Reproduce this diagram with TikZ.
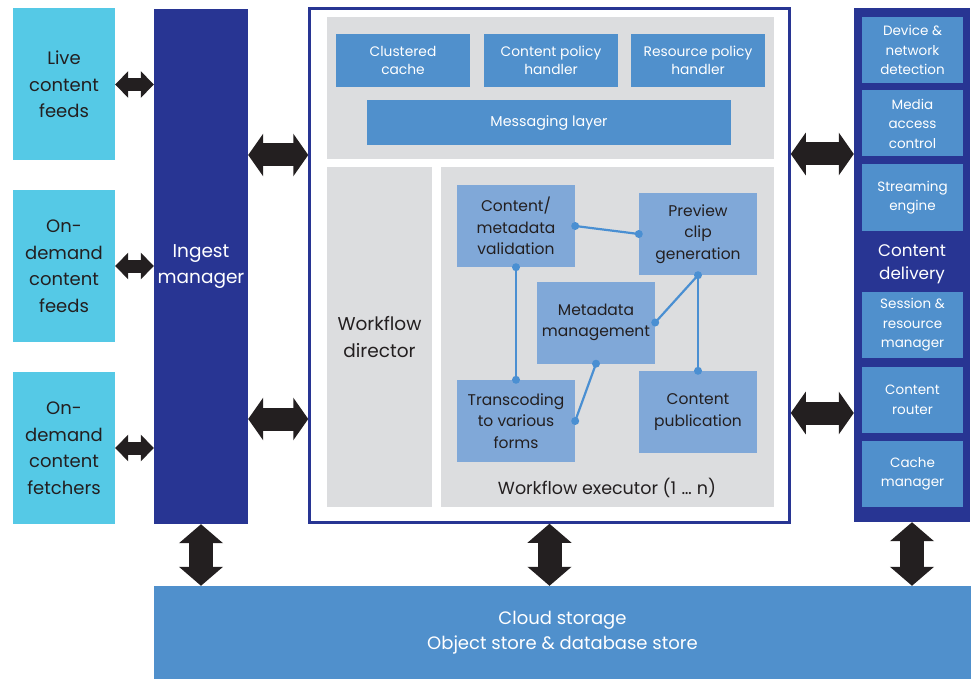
\documentclass[tikz,border=0pt]{standalone}
\usepackage{fontspec}
\setmainfont{Poppins}
\usetikzlibrary{arrows.meta}
\definecolor{cyanbox}{HTML}{55C9E6}
\definecolor{navy}{HTML}{283593}
\definecolor{midblue}{HTML}{5090CC}
\definecolor{lightblue}{HTML}{80A8D8}
\definecolor{panel}{HTML}{DCDDDF}
\definecolor{arrowc}{HTML}{231F20}
\definecolor{linkc}{HTML}{4A8FD2}
\definecolor{txt}{HTML}{231F20}
\tikzset{
  box/.style={rectangle, inner sep=0pt, align=center, draw=none},
  feed/.style={box, fill=cyanbox, text=txt, minimum width=102pt, minimum height=152pt, font=\fontsize{18}{26.5}\selectfont},
  topbox/.style={box, fill=midblue, text=white, minimum width=134pt, minimum height=53pt, font=\fontsize{13.8}{18.5}\selectfont},
  wfbox/.style={box, fill=lightblue, text=txt, minimum width=118pt, minimum height=82pt, font=\fontsize{15.5}{21.5}\selectfont},
  cdbox/.style={box, fill=midblue, text=white, minimum width=101pt, minimum height=66pt, font=\fontsize{13.5}{19.5}\selectfont},
  fatsmall/.style={draw=arrowc, line width=13pt, {Triangle[width=26pt,length=13pt]}-{Triangle[width=26pt,length=13pt]}},
  fatbig/.style={draw=arrowc, line width=23pt, {Triangle[width=42pt,length=15pt]}-{Triangle[width=42pt,length=15pt]}},
  fatvert/.style={draw=arrowc, line width=24pt, {Triangle[width=43pt,length=19pt]}-{Triangle[width=43pt,length=19pt]}},
  link/.style={draw=linkc, line width=2.2pt},
  dot/.style={fill=linkc},
}
\begin{document}
\begin{tikzpicture}[x=1pt,y=-1pt]
\useasboundingbox (0,0) rectangle (971,679);
% left feeds
\node[feed] (live) at (64,84.5) {Live\\content\\feeds};
\node[feed] (ondf) at (64,266) {On-\\demand\\content\\feeds};
\node[feed] (onfe) at (64,448) {On-\\demand\\content\\fetchers};
% ingest
\node[box, fill=navy, text=white, minimum width=94pt, minimum height=515pt, font=\fontsize{18.5}{26}\selectfont] (ingest) at (201,266.5) {Ingest\\manager};
% main frame
\node[box, draw=navy, line width=2.5pt, fill=white, minimum width=480pt, minimum height=514pt] (frame) at (549.5,265.5) {};
\node[box, fill=panel, minimum width=447pt, minimum height=142pt] (toppanel) at (550.5,88) {};
\node[topbox] (ccache) at (403,60.5) {Clustered\\cache};
\node[topbox] (cpol) at (551,60.5) {Content policy\\handler};
\node[topbox] (rpol) at (698,60.5) {Resource policy\\handler};
\node[topbox, minimum width=364pt, minimum height=45pt, font=\fontsize{14.3}{18}\selectfont] (msg) at (549,122.5) {Messaging layer};
\node[box, fill=panel, text=txt, minimum width=105pt, minimum height=340pt, font=\fontsize{18.5}{27}\selectfont] (wfd) at (379.5,337) {Workflow\\director};
\node[box, fill=panel, minimum width=333pt, minimum height=340pt] (wfe) at (607.5,337) {};
\node[text=txt, font=\fontsize{17.5}{20}\selectfont, inner sep=0pt] (wfelabel) at (607,488) {Workflow executor (1\hspace{0.3em}\dots\hspace{0.3em}n)};
\node[wfbox] (val) at (516,226) {Content/\\metadata\\validation};
\node[wfbox] (prev) at (698,234) {Preview\\clip\\generation};
\node[wfbox] (meta) at (596,322.5) {Metadata\\management};
\node[wfbox] (trans) at (516,421) {Transcoding\\to various\\forms};
\node[wfbox] (pub) at (698,412) {Content\\publication};
% links
\draw[link] (val.east) -- (prev.west);
\draw[link] (val.south) -- (trans.north);
\draw[link] (prev.south) -- (meta.east);
\draw[link] (prev.south) -- (pub.north);
\draw[link] (meta.south) -- (trans.east);
\foreach \p in {val.east,prev.west,val.south,trans.north,prev.south,meta.east,pub.north,meta.south,trans.east}
  \fill[dot] (\p) circle (4pt);
% content delivery
\node[box, fill=navy, minimum width=116pt, minimum height=514pt] (cd) at (912,265) {};
\node[cdbox] (dev) at (912.5,50) {Device \&\\network\\detection};
\node[cdbox] (mac) at (912.5,123.5) {Media\\access\\control};
\node[cdbox] (stream) at (912.5,197.5) {Streaming\\engine};
\node[text=white, font=\fontsize{16.8}{22.5}\selectfont, align=center, inner sep=0pt] (cdlabel) at (912,264) {Content\\delivery};
\node[cdbox] (sess) at (912.5,325) {Session \&\\resource\\manager};
\node[cdbox] (router) at (912.5,400) {Content\\router};
\node[cdbox] (cachem) at (912.5,474) {Cache\\manager};
% cloud storage
\node[box, fill=midblue, text=white, minimum width=817pt, minimum height=93pt, font=\fontsize{18}{25}\selectfont] (cloud) at (562.5,632.5) {Cloud storage\\Object store \& database store};
% fat arrows
\draw[fatsmall] (live.east) -- (live.east -| ingest.west);
\draw[fatsmall] (ondf.east) -- (ondf.east -| ingest.west);
\draw[fatsmall] (onfe.east) -- (onfe.east -| ingest.west);
\coordinate (a1) at (248,155);
\coordinate (a2) at (248,419);
\draw[fatbig] (a1 -| ingest.east) -- (a1 -| frame.west);
\draw[fatbig] (a2 -| ingest.east) -- (a2 -| frame.west);
\coordinate (b1) at (800,154);
\coordinate (b2) at (800,413);
\draw[fatbig] (b1 -| frame.east) -- (b1 -| cd.west);
\draw[fatbig] (b2 -| frame.east) -- (b2 -| cd.west);
\draw[fatvert] (ingest.south) -- (ingest.south |- cloud.north);
\draw[fatvert] (frame.south) -- (frame.south |- cloud.north);
\draw[fatvert] (cd.south) -- (cd.south |- cloud.north);
\end{tikzpicture}
\end{document}
